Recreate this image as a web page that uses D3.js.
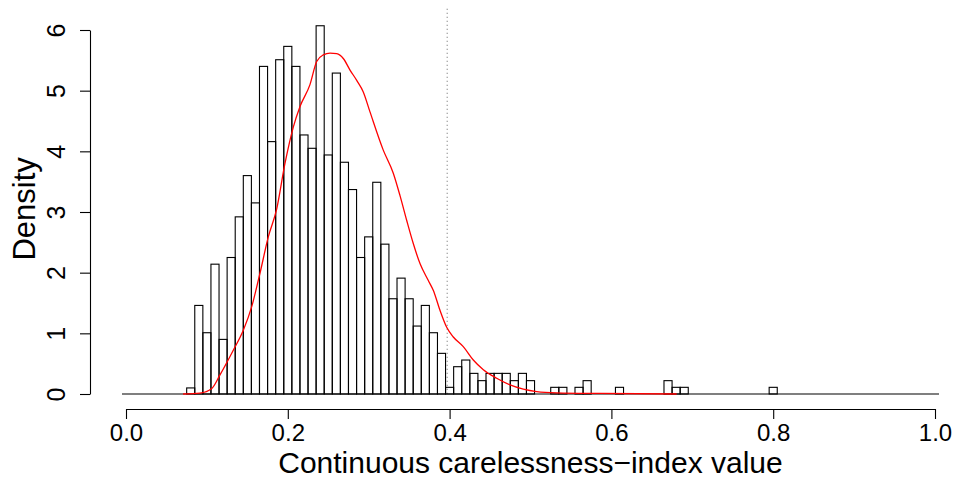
<!DOCTYPE html>
<html><head><meta charset="utf-8">
<script src="https://cdn.jsdelivr.net/npm/d3@7"></script>
<style>
body{margin:0;background:#fff}
svg{display:block}
text{font-family:"Liberation Sans",Arial,Helvetica,sans-serif;fill:#000}
</style>
</head><body>
<svg id="c" width="954" height="479"></svg>
<script>
// ---- data ----
const binMids = [0.08,0.09,0.10,0.11,0.12,0.13,0.14,0.15,0.16,0.17,
                 0.18,0.19,0.20,0.21,0.22,0.23,0.24,0.25,0.26,0.27,
                 0.28,0.29,0.30,0.31,0.32,0.33,0.34,0.35,0.36,0.37,
                 0.38,0.39,0.40,0.41,0.42,0.43,0.44,0.45,0.46,0.47,
                 0.48,0.49,0.50,0.53,0.54,0.56,0.57,0.61,0.67,0.68,
                 0.69,0.80];
const binDensity = [0.10,1.46,1.01,2.14,0.90,2.25,2.92,3.60,3.15,5.40,
                    4.16,5.51,5.73,5.40,4.27,4.05,6.07,3.94,5.29,3.82,
                    3.37,2.25,2.59,3.49,2.47,1.57,1.91,1.57,1.12,1.46,
                    1.01,0.67,0.11,0.45,0.56,0.34,0.22,0.34,0.34,0.34,
                    0.22,0.34,0.22,0.11,0.11,0.11,0.22,0.11,0.22,0.11,
                    0.11,0.11];
const binWidth = 0.01;
const histRange = [-0.005, 1.005];

const kdeX = [0.0705,0.0915,0.106,0.116,0.1326,0.145,0.1554,0.1656,0.1759,0.1863,
              0.1965,0.2068,0.2151,0.2274,0.2357,0.2439,0.2522,0.2604,0.2686,0.2769,
              0.2852,0.2933,0.3016,0.318,0.3304,0.3387,0.347,0.3551,0.3634,0.3737,
              0.3798,0.3881,0.3964,0.4046,0.4169,0.4293,0.4417,0.4582,0.4747,0.4911,
              0.5077,0.5324,0.586,0.6807];
const kdeY = [0.0,0.015,0.09,0.31,0.72,1.05,1.44,1.99,2.59,3.05,
              3.80,4.40,4.74,5.10,5.48,5.59,5.62,5.61,5.53,5.34,
              5.17,4.98,4.65,4.02,3.64,3.27,2.86,2.48,2.15,1.87,
              1.71,1.38,1.10,0.94,0.78,0.56,0.40,0.26,0.15,0.08,
              0.04,0.02,0.01,0.0];
const cutoff = 0.397;

const xTicks = [0.0,0.2,0.4,0.6,0.8,1.0];
const yTicks = [0,1,2,3,4,5,6];
const xTitle = "Continuous carelessness\u2212index value";
const yTitle = "Density";

// ---- drawing ----
const svg = d3.select("#c");
const x = d3.scaleLinear().domain([0,1]).range([126,935]);
const y = d3.scaleLinear().domain([0,6]).range([394,30]);
const plotTop = y(6.35), plotBottom = 409, plotLeft = 90;

// dotted cutoff line
svg.append("line")
  .attr("x1", x(cutoff)).attr("x2", x(cutoff))
  .attr("y1", plotTop).attr("y2", y(0))
  .attr("stroke", "#666").attr("stroke-width", 1)
  .attr("stroke-dasharray", "1,3");

// baseline made by the empty bins
svg.append("line")
  .attr("x1", x(histRange[0])).attr("x2", x(histRange[1]))
  .attr("y1", y(0)).attr("y2", y(0))
  .attr("stroke", "#000").attr("stroke-width", 1.1);

// histogram bars
svg.append("g").selectAll("rect")
  .data(binMids.map((m,i)=>({m, d: binDensity[i]})))
  .join("rect")
  .attr("x", d => x(d.m - binWidth/2))
  .attr("width", d => x(d.m + binWidth/2) - x(d.m - binWidth/2))
  .attr("y", d => y(d.d))
  .attr("height", d => y(0) - y(d.d))
  .attr("fill", "none")
  .attr("stroke", "#000")
  .attr("stroke-width", 1.1);

// density curve
const line = d3.line()
  .x((d,i) => x(kdeX[i]))
  .y(d => y(d))
  .curve(d3.curveMonotoneX);
svg.append("path")
  .attr("d", line(kdeY))
  .attr("fill", "none")
  .attr("stroke", "#ff0000")
  .attr("stroke-width", 1.3);

// x axis
const gx = svg.append("g")
  .attr("transform", `translate(0,${plotBottom})`)
  .call(d3.axisBottom(x).tickValues(xTicks).tickFormat(d3.format(".1f"))
        .tickSize(10).tickSizeOuter(0).tickPadding(5));
gx.selectAll("path,line").attr("stroke", "#000").attr("stroke-width", 1.1);
gx.selectAll("text").style("font-size", "24px");

// y axis
const gy = svg.append("g")
  .attr("transform", `translate(${plotLeft},0)`)
  .call(d3.axisLeft(y).tickValues(yTicks).tickFormat(d3.format("d"))
        .tickSize(10).tickSizeOuter(0));
gy.selectAll("path,line").attr("stroke", "#000").attr("stroke-width", 1.1);
gy.selectAll("text")
  .attr("x", null).attr("dy", null)
  .attr("text-anchor", "middle")
  .attr("transform", "translate(-25,0) rotate(-90)")
  .style("font-size", "25px");

// titles
svg.append("text")
  .attr("x", (x(0)+x(1))/2).attr("y", 472.5)
  .attr("text-anchor", "middle")
  .style("font-size", "30px")
  .text(xTitle);
svg.append("text")
  .attr("transform", `translate(35,${(plotTop+plotBottom)/2}) rotate(-90)`)
  .attr("text-anchor", "middle")
  .style("font-size", "31px")
  .text(yTitle);
</script>
</body></html>
